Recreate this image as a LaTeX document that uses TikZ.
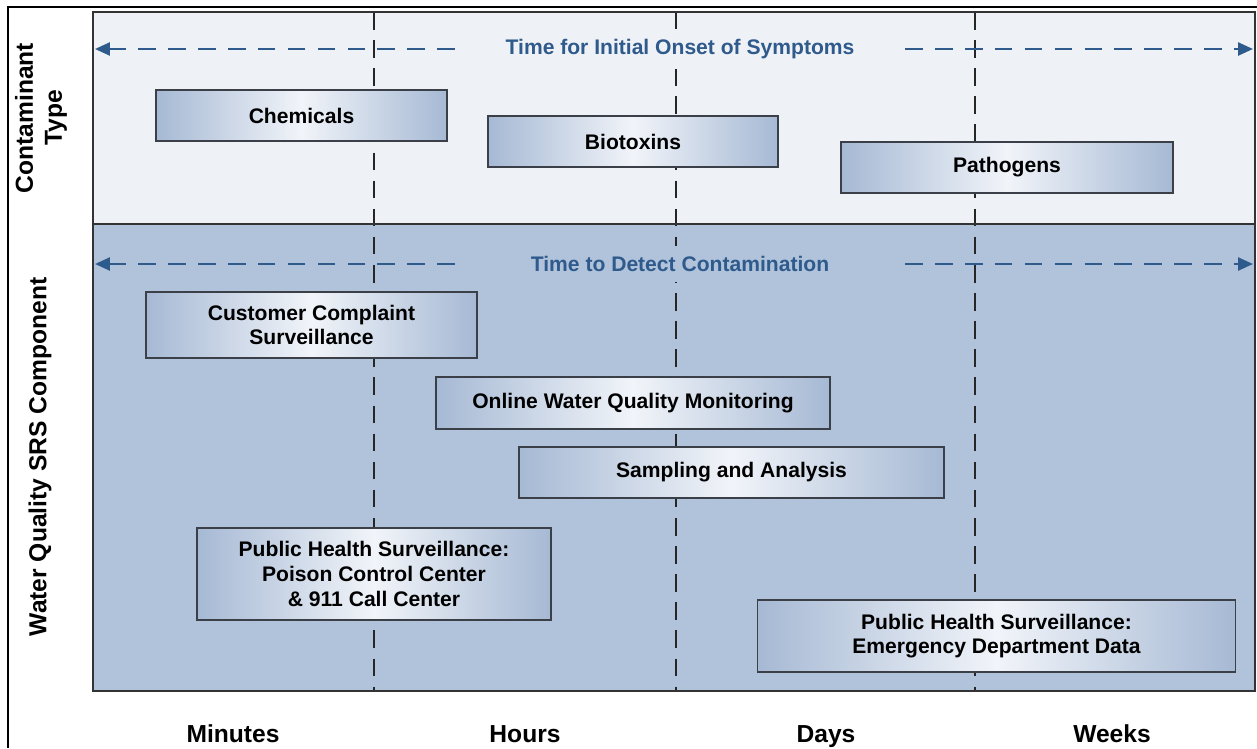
\documentclass[tikz,border=0pt]{standalone}
\usepackage{fontspec}
\setmainfont{Liberation Sans}
\usetikzlibrary{arrows.meta}
\definecolor{topfill}{HTML}{EEF1F6}
\definecolor{bottomfill}{HTML}{B0C3DB}
\definecolor{timeblue}{HTML}{2F5A8C}
\definecolor{boxedge}{HTML}{A6B9D4}
\definecolor{boxmid}{HTML}{F1F4F9}
\definecolor{boxline}{HTML}{3A3F48}
\begin{document}
\begin{tikzpicture}[x=0.02cm,y=-0.02cm,
  phase/.style={draw=black!85,line width=1.2pt,dash pattern=on 10pt off 6pt},
  timeline/.style={draw=timeblue,line width=1.4pt,dash pattern=on 10pt off 7pt,-{Triangle[length=3mm,width=2.6mm]}},
  timelabel/.style={text=timeblue,font=\fontsize{12}{14}\selectfont\bfseries,minimum width=9cm,inner ysep=6pt},
  component/.style={draw=boxline,line width=0.8pt,left color=boxedge,right color=boxedge,middle color=boxmid,
    align=center,font=\fontsize{12}{14}\selectfont\bfseries,inner sep=0pt},
  scalelabel/.style={font=\fontsize{14}{16.5}\selectfont\bfseries}]
  \useasboundingbox (0,0) rectangle (1257,748);
  % panels
  \fill[topfill] (93,12) rectangle (1255,224);
  \fill[bottomfill] (93,224) rectangle (1255,691);
  \foreach \x in {374,676,975} \draw[phase] (\x,12) -- (\x,691);
  % time arrows
  \node[timelabel,fill=topfill] (onset) at (680,49) {Time for Initial Onset of Symptoms};
  \coordinate (onsetL) at (95,49);
  \coordinate (onsetR) at (1253,49);
  \draw[timeline] (onset.west) -- (onsetL);
  \draw[timeline] (onset.east) -- (onsetR);
  \node[timelabel,fill=bottomfill] (detect) at (680,264) {Time to Detect Contamination};
  \coordinate (detectL) at (95,264);
  \coordinate (detectR) at (1253,264);
  \draw[timeline] (detect.west) -- (detectL);
  \draw[timeline] (detect.east) -- (detectR);
  % contaminant types
  \node[component,minimum width=5.82cm,minimum height=1.02cm] (chem) at (301.5,115.5) {Chemicals};
  \node[component,minimum width=5.8cm,minimum height=1.02cm] (bio) at (633,141.5) {Biotoxins};
  \node[component,minimum width=6.64cm,minimum height=1.02cm] (path) at (1007,167.5) {Pathogens};
  % SRS components
  \node[component,minimum width=6.62cm,minimum height=1.32cm] (ccs) at (311.5,325) {Customer Complaint\\Surveillance};
  \node[component,minimum width=7.88cm,minimum height=1.04cm] (owqm) at (633,403) {Online Water Quality Monitoring};
  \node[component,minimum width=8.5cm,minimum height=1.02cm] (sa) at (731.5,472.5) {Sampling and Analysis};
  \node[component,minimum width=7.08cm,minimum height=1.84cm] (phspc) at (374,574) {Public Health Surveillance:\\Poison Control Center\\\& 911 Call Center};
  \node[component,minimum width=9.56cm,minimum height=1.44cm] (phsed) at (996.5,636) {Public Health Surveillance:\\Emergency Department Data};
  % frames
  \draw[draw=black!80,line width=1.1pt] (93,12) rectangle (1255,691);
  \draw[draw=black!80,line width=1.1pt] (93,224) -- (1255,224);
  \draw[line width=1.5pt] (8,748) -- (8,7) -- (1257,7);
  % axis labels
  \node[scalelabel,rotate=90,align=center] (ctype) at (41,118) {Contaminant\\Type};
  \node[scalelabel,rotate=90] (srs) at (40,457) {Water Quality SRS Component};
  \node[scalelabel,anchor=base] (minutes) at (233,742) {Minutes};
  \node[scalelabel,anchor=base] (hours) at (525,742) {Hours};
  \node[scalelabel,anchor=base] (days) at (826,742) {Days};
  \node[scalelabel,anchor=base] (weeks) at (1112,742) {Weeks};
\end{tikzpicture}
\end{document}
